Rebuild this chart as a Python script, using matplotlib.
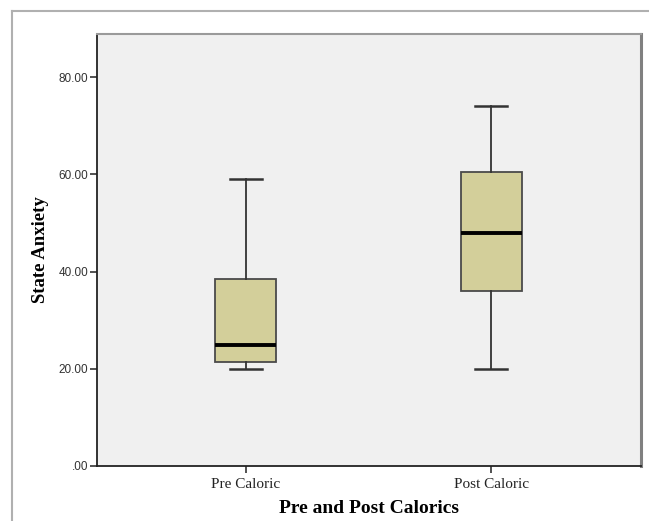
import matplotlib.pyplot as plt

# values
categories = ["Pre Caloric", "Post Caloric"]
whisker_low = [20.0, 20.0]
q1 = [21.5, 36.0]
medians = [25.0, 48.0]
q3 = [38.5, 60.5]
whisker_high = [59.0, 74.0]
y_ticks = [0, 20, 40, 60, 80]
y_tick_labels = [".00", "20.00", "40.00", "60.00", "80.00"]

box_fill = "#d3cf9a"
panel_bg = "#f0f0f0"

fig = plt.figure(figsize=(6.49, 5.21), dpi=100)
fig.patch.set_facecolor("white")

# light outer border like the SPSS output frame
fig.add_artist(plt.Line2D([11.5 / 649, 11.5 / 649], [0, 1 - 10.5 / 521],
                          transform=fig.transFigure, color="#b0b0b0", lw=1.5))
fig.add_artist(plt.Line2D([11.5 / 649, 1], [1 - 10.5 / 521, 1 - 10.5 / 521],
                          transform=fig.transFigure, color="#b0b0b0", lw=1.5))

ax = fig.add_axes([96.5 / 649, 1 - 466 / 521, (641 - 96.5) / 649, (466 - 34) / 521])
ax.set_facecolor(panel_bg)

stats = []
for i in range(len(categories)):
    stats.append({
        "label": categories[i],
        "whislo": whisker_low[i],
        "q1": q1[i],
        "med": medians[i],
        "q3": q3[i],
        "whishi": whisker_high[i],
        "fliers": [],
    })

ax.bxp(stats, positions=[1, 2], widths=0.25, patch_artist=True, showfliers=False,
       boxprops=dict(facecolor=box_fill, edgecolor="#4a4a4a", lw=1.3),
       medianprops=dict(color="black", lw=2.8),
       whiskerprops=dict(color="#333333", lw=1.3),
       capprops=dict(color="#333333", lw=1.8),
       capwidths=0.13)

ax.set_xlim(0.392, 2.61)
ax.set_ylim(0, 88.9)

ax.set_yticks(y_ticks)
ax.set_yticklabels(y_tick_labels, fontsize=8.5, color="#333333",
                   family=["Liberation Sans", "DejaVu Sans"])
ax.set_xticks([1, 2])
ax.set_xticklabels(categories, fontsize=11, family="Liberation Serif", color="#222222")
ax.tick_params(axis="y", length=5, width=1.2, color="#333333", pad=1)
ax.tick_params(axis="x", length=5, width=1.2, color="#333333", pad=4)

for side in ["left", "bottom"]:
    ax.spines[side].set_color("#222222")
    ax.spines[side].set_linewidth(1.3)
ax.spines["top"].set_color("#9a9a9a")
ax.spines["top"].set_linewidth(1.5)
ax.spines["right"].set_color("#808080")
ax.spines["right"].set_linewidth(2.2)

ax.set_ylabel("State Anxiety", fontsize=13.5, fontweight="bold",
              family="Liberation Serif", labelpad=7)
ax.set_xlabel("Pre and Post Calorics", fontsize=14, fontweight="bold",
              family="Liberation Serif", labelpad=6)

fig.savefig("out.png", dpi=100, facecolor="white")
